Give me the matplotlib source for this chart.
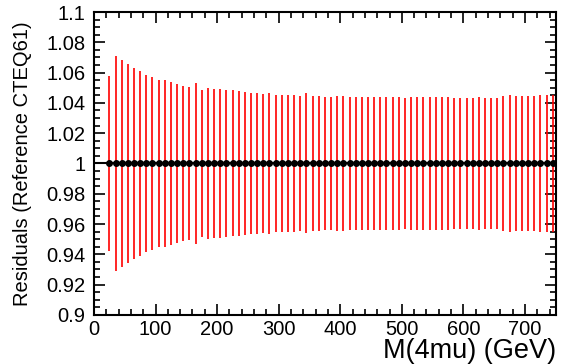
import numpy as np
import matplotlib.pyplot as plt
from matplotlib.ticker import MultipleLocator

plt.rcParams['font.family'] = ['Liberation Sans', 'DejaVu Sans']

# bin centres (GeV), residual values and symmetric errors
mass = np.arange(25, 750, 10)
ratio = np.ones(len(mass))
err = np.array([
    0.0575, 0.0712, 0.0684, 0.0657, 0.0628, 0.0610, 0.0585, 0.0572, 0.0552, 0.0549,
    0.0540, 0.0525, 0.0510, 0.0505, 0.0533, 0.0487, 0.0497, 0.0493, 0.0491, 0.0485,
    0.0482, 0.0476, 0.0473,
    0.0468, 0.0464, 0.0459, 0.0466, 0.0455, 0.0455, 0.0451, 0.0451, 0.0448, 0.0462,
    0.0444, 0.0444, 0.0442, 0.0442, 0.0444, 0.0444, 0.0440, 0.0440, 0.0437, 0.0437,
    0.0437, 0.0440, 0.0437, 0.0437, 0.0437, 0.0435, 0.0437, 0.0437, 0.0437, 0.0440,
    0.0442, 0.0440, 0.0442, 0.0435, 0.0435, 0.0435, 0.0435, 0.0437, 0.0435, 0.0435,
    0.0433, 0.0446, 0.0451, 0.0446, 0.0448, 0.0448, 0.0444, 0.0453, 0.0455, 0.0455,
])

fig = plt.figure(figsize=(5.66, 3.64), dpi=100)
ax = fig.add_axes([0.166, 0.135, 0.816, 0.832])

ax.axhline(1.0, color='black', lw=1.5, zorder=3)
ax.errorbar(mass, ratio, yerr=err, fmt='none', ecolor='red', elinewidth=1.2, zorder=2)
ax.plot(mass, ratio, 'o', color='black', ms=4, zorder=4)

ax.set_xlim(0, 750)
ax.set_ylim(0.9, 1.1)
ax.xaxis.set_major_locator(MultipleLocator(100))
ax.xaxis.set_minor_locator(MultipleLocator(20))
ax.yaxis.set_minor_locator(MultipleLocator(0.005))
ax.set_yticks([0.9, 0.92, 0.94, 0.96, 0.98, 1.0, 1.02, 1.04, 1.06, 1.08, 1.1])
ax.set_yticklabels(['0.9', '0.92', '0.94', '0.96', '0.98', '1', '1.02', '1.04',
                    '1.06', '1.08', '1.1'])

ax.tick_params(which='both', direction='in', top=True, right=True, width=1.2,
               labelsize=14.5)
ax.tick_params(which='major', length=8)
ax.tick_params(which='minor', length=4)
ax.tick_params(axis='x', pad=4)
ax.tick_params(axis='y', pad=6)
for s in ax.spines.values():
    s.set_linewidth(1.5)

ax.set_xlabel('M(4mu) (GeV)', fontsize=19.5, loc='right', labelpad=-1)
ax.set_ylabel('Residuals (Reference CTEQ61)', fontsize=14.5)
ax.yaxis.set_label_coords(-0.135, 0.5)

fig.savefig('out.png', dpi=100)
